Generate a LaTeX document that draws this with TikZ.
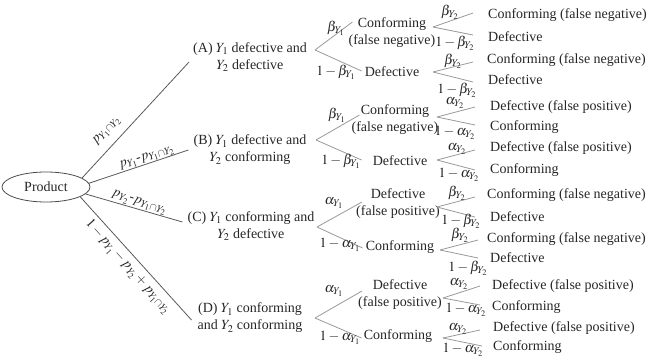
\documentclass[tikz,border=0pt]{standalone}
\usepackage{mathptmx}
\usepackage{fontspec}
\setmainfont{Liberation Serif}
\usetikzlibrary{shapes.geometric}
\begin{document}
\begin{tikzpicture}[x=1pt,y=-1pt,
  txt/.style={inner sep=1pt, text=black!85, font=\fontsize{14}{17}\selectfont},
  two/.style={txt, align=center},
  leaf/.style={txt, anchor=west},
  lab/.style={inner sep=1pt, text=black!85, font=\fontsize{14}{17}\selectfont},
  main/.style={draw=black!65, line width=0.8pt},
  br/.style={draw=black!40, line width=0.8pt},
]
\useasboundingbox (0,0) rectangle (646,362);

% root
\node[txt, draw=black!70, line width=0.8pt, ellipse, minimum width=88pt, minimum height=30pt, inner sep=0pt] (prod) at (46,187) {Product};

% stage 1
\node[two] (A) at (250,57) {(A) $Y_1$ defective and\\$Y_2$ defective};
\node[two] (B) at (250,150) {(B) $Y_1$ defective and\\$Y_2$ conforming};
\node[two] (C) at (251,226) {(C) $Y_1$ conforming and\\$Y_2$ defective};
\node[two] (D) at (250,318) {(D) $Y_1$ conforming\\and $Y_2$ conforming};

\draw[main] (prod.14) -- ([shift={(-3,5)}]A.west);
\draw[main] (prod.5) -- ([shift={(-4,0)}]B.west);
\draw[main] (prod.-10) -- ([shift={(-4,-4)}]C.west);
\draw[main] (prod.-16) -- ([shift={(-5,2)}]D.west);

\node[lab, rotate=47] (pA) at (107,131) {$p_{Y_1\cap Y_2}$};
\node[lab, rotate=19] (pB) at (147,158) {$p_{Y_1}$-$p_{Y_1\cap Y_2}$};
\node[lab, rotate=-17] (pC) at (139,203) {$p_{Y_2}$-$p_{Y_1\cap Y_2}$};
\node[lab, rotate=-48] (pD) at (128,267) {$1-p_{Y_1}-p_{Y_2}+p_{Y_1\cap Y_2}$};

% stage 2 nodes
\node[two] (A1) at (392,33) {Conforming\\(false negative)};
\node[txt] (A2) at (392,72) {Defective};
\node[two] (B1) at (395,120) {Conforming\\(false negative)};
\node[txt] (B2) at (400,161) {Defective};
\node[two] (C1) at (398,204) {Defective\\(false positive)};
\node[txt] (C2) at (400,247) {Conforming};
\node[two] (D1) at (400,295) {Defective\\(false positive)};
\node[txt] (D2) at (398,336) {Conforming};

% stage 1 forks
\coordinate (fA) at (315,50);
\coordinate (fB) at (316,140);
\coordinate (fC) at (317,227);
\coordinate (fD) at (315,318);

\draw[br] (fA) -- ([shift={(5,-11)}]A1.west);
\draw[br] (fA) -- ([shift={(-2,-1)}]A2.west);
\draw[br] (fB) -- ([shift={(9,-5)}]B1.west);
\draw[br] (fB) -- ([shift={(-10,-1)}]B2.west);
\draw[br] (fC) -- ([shift={(7,-2)}]C1.west);
\draw[br] (fC) -- ([shift={(-2,1)}]C2.west);
\draw[br] (fD) -- ([shift={(5,-4)}]D1.west);
\draw[br] (fD) -- ([shift={(-1,2)}]D2.west);

\node[lab] (lA1) at (336,28) {$\beta_{Y_1}$};
\node[lab] (lA2) at (336,72) {$1-\beta_{Y_1}$};
\node[lab] (lB1) at (337,115) {$\beta_{Y_1}$};
\node[lab] (lB2) at (341,161) {$1-\beta_{Y_1}$};
\node[lab] (lC1) at (334,203) {$\alpha_{Y_1}$};
\node[lab] (lC2) at (340,245) {$1-\alpha_{Y_1}$};
\node[lab] (lD1) at (334,291) {$\alpha_{Y_1}$};
\node[lab] (lD2) at (340,338) {$1-\alpha_{Y_1}$};

% leaves
\node[leaf] (L1) at (487,15) {Conforming (false negative)};
\node[leaf] (L2) at (487,37) {Defective};
\node[leaf] (L3) at (486,60) {Conforming (false negative)};
\node[leaf] (L4) at (487,80) {Defective};
\node[leaf] (L5) at (489,107) {Defective (false positive)};
\node[leaf] (L6) at (489,127) {Conforming};
\node[leaf] (L7) at (489,148) {Defective (false positive)};
\node[leaf] (L8) at (489,170) {Conforming};
\node[leaf] (L9) at (486,195) {Conforming (false negative)};
\node[leaf] (L10) at (489,217) {Defective};
\node[leaf] (L11) at (486,239) {Conforming (false negative)};
\node[leaf] (L12) at (489,258) {Defective};
\node[leaf] (L13) at (491,286) {Defective (false positive)};
\node[leaf] (L14) at (491,307) {Conforming};
\node[leaf] (L15) at (492,328) {Defective (false positive)};
\node[leaf] (L16) at (492,347) {Conforming};

% stage 2 forks
\coordinate (fA1) at (433,27);
\coordinate (fA2) at (433,72);
\coordinate (fB1) at (437,117);
\coordinate (fB2) at (437,160);
\coordinate (fC1) at (437,207);
\coordinate (fC2) at (440,250);
\coordinate (fD1) at (443,298);
\coordinate (fD2) at (443,338);

\draw[br] (fA1) -- ([shift={(-14,-2)}]L1.west);
\draw[br] (fA1) -- ([shift={(-14,-2)}]L2.west);
\draw[br] (fA2) -- ([shift={(-13,2)}]L3.west);
\draw[br] (fA2) -- ([shift={(-14,2)}]L4.west);
\draw[br] (fB1) -- ([shift={(-14,0)}]L5.west);
\draw[br] (fB1) -- ([shift={(-14,-2)}]L6.west);
\draw[br] (fB2) -- ([shift={(-14,2)}]L7.west);
\draw[br] (fB2) -- ([shift={(-14,0)}]L8.west);
\draw[br] (fC1) -- ([shift={(-11,2)}]L9.west);
\draw[br] (fC1) -- ([shift={(-14,0)}]L10.west);
\draw[br] (fC2) -- ([shift={(-8,1)}]L11.west);
\draw[br] (fC2) -- ([shift={(-11,0)}]L12.west);
\draw[br] (fD1) -- ([shift={(-11,0)}]L13.west);
\draw[br] (fD1) -- ([shift={(-11,-2)}]L14.west);
\draw[br] (fD2) -- ([shift={(-12,2)}]L15.west);
\draw[br] (fD2) -- ([shift={(-10,-1)}]L16.west);

\node[lab] (mA1a) at (450,12) {$\beta_{Y_2}$};
\node[lab] (mA1b) at (455,43) {$1-\beta_{Y_2}$};
\node[lab] (mA2a) at (453,61) {$\beta_{Y_2}$};
\node[lab] (mA2b) at (457,90) {$1-\beta_{Y_2}$};
\node[lab] (mB1a) at (455,103) {$\alpha_{Y_2}$};
\node[lab] (mB1b) at (455,133) {$1-\alpha_{Y_2}$};
\node[lab] (mB2a) at (457,149) {$\alpha_{Y_2}$};
\node[lab] (mB2b) at (459,175) {$1-\alpha_{Y_2}$};
\node[lab] (mC1a) at (457,193) {$\beta_{Y_2}$};
\node[lab] (mC1b) at (461,221) {$1-\beta_{Y_2}$};
\node[lab] (mC2a) at (460,235) {$\beta_{Y_2}$};
\node[lab] (mC2b) at (468,268) {$1-\beta_{Y_2}$};
\node[lab] (mD1a) at (459,284) {$\alpha_{Y_2}$};
\node[lab] (mD1b) at (466,310) {$1-\alpha_{Y_2}$};
\node[lab] (mD2a) at (458,329) {$\alpha_{Y_2}$};
\node[lab] (mD2b) at (463,350) {$1-\alpha_{Y_2}$};
\end{tikzpicture}
\end{document}
